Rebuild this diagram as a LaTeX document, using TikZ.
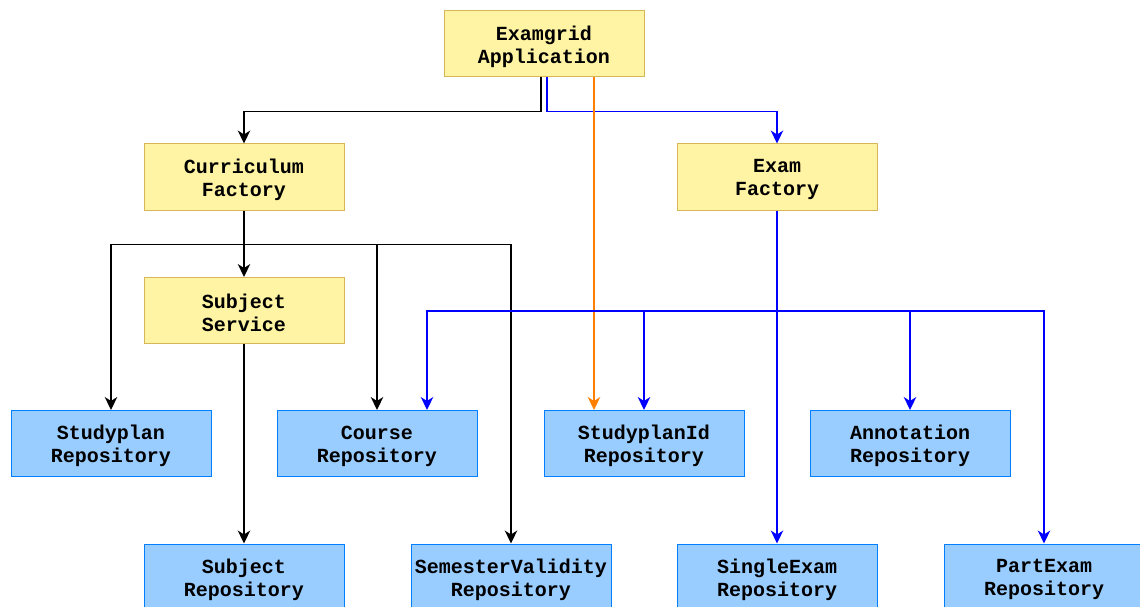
\documentclass[tikz,border=0pt]{standalone}
\usepackage{fontspec}
\setmonofont{Liberation Mono}
\usetikzlibrary{arrows.meta}
\definecolor{svcfill}{HTML}{FFF4A3}
\definecolor{svcdraw}{HTML}{D6B656}
\definecolor{repofill}{HTML}{99CCFF}
\definecolor{repodraw}{HTML}{007FFF}
\definecolor{linkblue}{HTML}{0000FF}
\definecolor{linkorange}{HTML}{FF8000}
\tikzset{
  box/.style={draw, line width=1pt, minimum width=200pt, minimum height=66pt,
    inner sep=0pt},
  svc/.style={box, fill=svcfill, draw=svcdraw},
  repo/.style={box, fill=repofill, draw=repodraw},
  txt/.style={inner sep=0pt, align=center,
    font=\ttfamily\bfseries\fontsize{20}{23}\selectfont},
  link/.style={line width=1.3pt, -{Stealth[length=13pt,width=12.5pt,inset=4pt]}}
}
% a box and its two-line caption, set a little below the centre
\newcommand\blockbox[4]{%
  \node[#1] (#2) at (#3) {};
  \node[txt] at ([yshift=-2.5pt]#2.center) {#4};}
\begin{document}
\begin{tikzpicture}[x=1pt,y=-1pt]
\useasboundingbox (0,0) rectangle (1140,607);
% services
\blockbox{svc}{app}{544,44}{Examgrid\\Application}
\blockbox{svc}{cf}{244,177}{Curriculum\\Factory}
\blockbox{svc}{ef}{777,177}{Exam\\Factory}
\blockbox{svc}{ss}{244,310.5}{Subject\\Service}
% repositories
\blockbox{repo}{spr}{111,443.5}{Studyplan\\Repository}
\blockbox{repo}{cr}{377,443.5}{Course\\Repository}
\blockbox{repo}{spir}{644,443.5}{StudyplanId\\Repository}
\blockbox{repo}{ar}{910,443.5}{Annotation\\Repository}
\blockbox{repo}{sr}{244,577}{Subject\\Repository}
\blockbox{repo}{svr}{511,577}{SemesterValidity\\Repository}
\blockbox{repo}{ser}{777,577}{SingleExam\\Repository}
\blockbox{repo}{per}{1044,577}{PartExam\\Repository}
% application links
\draw[link] ([xshift=-3pt]app.south) -- ++(0,34) -| (cf.north);
\draw[link, color=linkblue] ([xshift=3pt]app.south) -- ++(0,34) -| (ef.north);
\coordinate (o1) at ([xshift=50pt]app.south);
\draw[link, color=linkorange] (o1) -- (o1 |- spir.north);
% curriculum factory links
\draw[link] (cf.south) -- (ss.north);
\coordinate (cbus) at ([yshift=-34pt]cf.south);
\draw[link] (cf.south) -- (cbus) -| (spr.north);
\draw[link] (cbus) -| (cr.north);
\draw[link] (cbus) -| (svr.north);
% subject service
\draw[link] (ss.south) -- (sr.north);
% exam factory links
\draw[link, color=linkblue] (ef.south) -- (ser.north);
\coordinate (ebus) at (ef.south |- 0,311);
\draw[link, color=linkblue] (ebus) -| ([xshift=50pt]cr.north);
\draw[link, color=linkblue] (ebus) -| (spir.north);
\draw[link, color=linkblue] (ebus) -| (ar.north);
\draw[link, color=linkblue] (ebus) -| (per.north);
\end{tikzpicture}
\end{document}
